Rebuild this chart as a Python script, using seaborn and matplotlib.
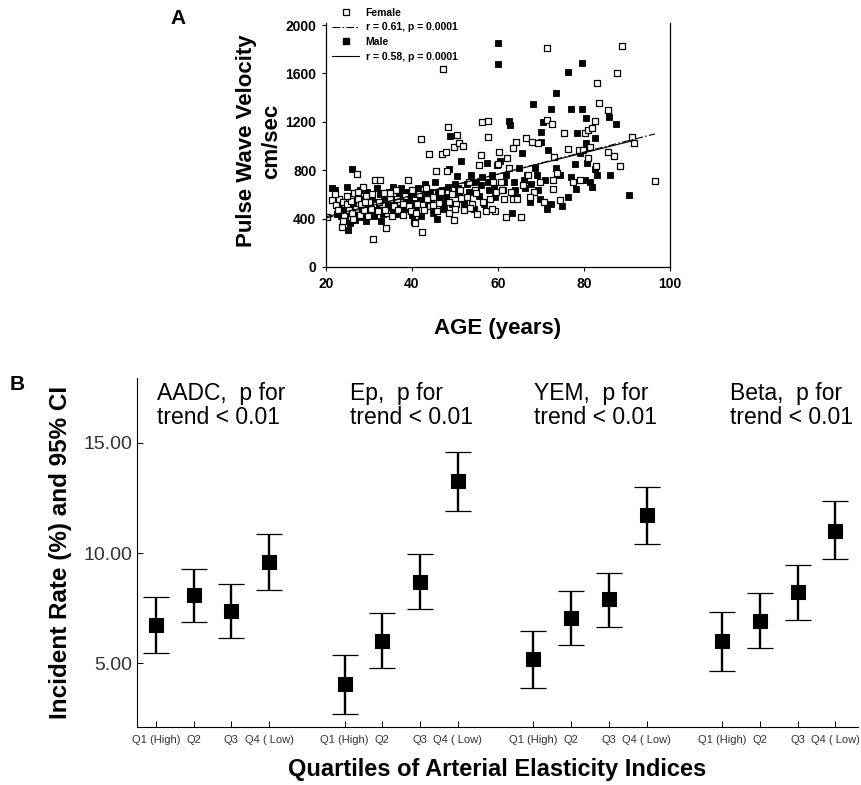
import matplotlib
matplotlib.use("Agg")
import matplotlib.pyplot as plt
import seaborn as sns
import pandas as pd
from matplotlib.lines import Line2D

# Panel A: pulse wave velocity vs age
female_age = [20.2, 21.5, 22.3, 22.8, 23.0, 23.7, 23.9, 24.3, 24.8, 25.3, 25.8, 26.2, 26.5, 26.9,
              27.1, 27.4, 27.8, 28.2, 28.6, 28.9, 29.3, 29.7, 30.1, 30.5,
              31.0, 31.5, 32.0, 32.6, 33.0, 33.4, 34.0, 34.3, 34.8, 35.3, 35.8, 36.2, 36.7, 37.2,
              37.8, 38.3, 39.0, 39.4, 39.8,
              40.5, 40.8, 41.2, 41.7, 42.1, 42.4, 42.8, 43.2, 43.9, 44.3, 44.8, 45.5, 45.9, 46.4,
              47.1, 47.3, 47.8, 48.1, 48.3, 48.7, 49.2, 49.7, 49.8,
              50.5, 51.0, 51.8, 50.3, 51.2, 52.0, 52.8, 53.3, 54.0, 54.6, 55.2, 55.6, 56.0, 56.4,
              57.2, 57.6, 57.6, 58.2, 58.8, 59.2, 59.6,
              60.3, 60.8, 61.4, 61.9, 62.5, 63.0, 63.6, 64.2, 65.3, 65.8, 66.5, 67.0, 67.9, 68.4,
              69.3, 69.8, 60.0, 62.0,
              70.8, 71.3, 71.5, 72.5, 72.9, 72.9, 73.0, 73.8, 74.4, 75.4, 76.2, 77.5, 78.8, 79.0, 79.8,
              80.2, 80.9, 81.8, 82.6, 83.1, 83.4, 85.5, 87.7, 88.9, 87.1, 85.6, 88.5, 91.2, 91.7,
              96.6, 81.0, 81.4, 82.8,
              22.0, 24.0, 25.0, 26.0, 27.5, 29.0, 30.8, 32.3, 33.8, 35.0, 36.5, 38.0, 40.0, 41.0,
              43.5, 45.0, 46.8, 48.5, 50.0, 51.5, 53.5, 55.0, 56.5, 58.5, 61.0, 63.5, 64.5, 67.5]
female_pwv = [414, 552, 510, 470, 560, 331, 540, 430, 520, 470, 545, 400, 610, 480,
              772, 560, 430, 520, 660, 470, 590, 420, 540, 480,
              229, 717, 460, 717, 520, 610, 323, 450, 560, 420, 500, 640, 470, 540,
              430, 590, 717, 500, 460,
              372, 364, 520, 600, 1062, 290, 470, 650, 938, 500, 580, 795, 460, 530,
              938, 1636, 952, 795, 1159, 450, 600, 993, 386,
              1090, 1021, 1001, 520, 640, 470, 580, 700, 520, 640, 440, 841, 924, 1197,
              463, 1209, 1076, 560, 700, 463, 620,
              950, 700, 560, 414, 820, 620, 560, 1030, 414, 680, 1070, 760, 1035, 620,
              1026, 700, 850, 900,
              538, 1214, 1810, 1186, 717, 648, 910, 778, 552, 1104, 979, 700, 966, 717, 966,
              1104, 1131, 1145, 1203, 1523, 1357, 1294, 1606, 1826, 916, 952, 836, 1076, 1021,
              709, 897, 993, 833,
              600, 380, 590, 450, 620, 540, 600, 540, 470, 610, 560, 520, 640, 450,
              560, 510, 620, 540, 480, 570, 490, 610, 540, 480, 640, 980, 560, 580]

male_age = [21.5, 22.0, 22.5, 23.0, 23.6, 24.1, 24.9, 25.2, 25.5, 25.9, 26.0, 26.4, 26.8, 27.2,
            27.6, 28.0, 28.4, 28.8, 29.2, 29.6, 30.0,
            30.6, 31.2, 31.8, 32.3, 32.9, 33.5, 34.1, 34.7, 35.2, 35.7, 36.3, 36.9, 37.5, 38.1,
            38.7, 39.3, 39.9,
            40.3, 40.9, 41.5, 42.0, 42.6, 43.1, 43.7, 44.2, 44.8, 45.3, 45.9, 46.4, 47.0, 47.5,
            48.0, 48.6, 48.9, 49.4, 49.9,
            50.4, 50.9, 51.5, 52.1, 52.7, 53.2, 53.8, 54.4, 55.0, 55.6, 56.2, 56.8, 57.4, 58.0,
            58.6, 59.3, 59.9, 59.9, 59.7,
            60.5, 61.2, 61.8, 62.5, 62.9, 63.3, 63.8, 64.4, 65.0, 65.7, 66.2, 66.8, 67.4, 68.1,
            68.6, 69.2, 69.8,
            70.1, 70.1, 70.4, 71.3, 71.7, 72.4, 72.4, 73.4, 73.6, 75.0, 76.2, 76.2, 77.1, 78.0,
            78.2, 78.4, 79.6, 79.6,
            80.4, 80.4, 80.2, 81.3, 81.8, 82.5, 82.5, 83.0, 85.9, 86.1, 87.5, 90.5,
            22.8, 23.3, 24.5, 25.6, 26.6, 27.9, 28.6, 29.4, 30.3, 31.5, 32.6, 33.2, 34.4, 35.5,
            36.6, 37.2, 38.4, 39.6, 40.6, 41.8, 43.4, 44.5, 46.0, 47.2, 48.3, 49.2, 50.7, 51.8,
            53.5, 54.8, 56.0, 57.7, 59.0, 61.5, 64.0, 66.0, 67.8, 69.0, 71.0, 74.5, 77.0, 79.0,
            80.8]
male_pwv = [650, 640, 440, 500, 420, 470, 662, 303, 360, 450, 808, 520, 390, 600,
            460, 640, 410, 500, 380, 620, 450,
            560, 420, 650, 500, 380, 580, 470, 620, 530, 660, 440, 600, 650, 480,
            620, 560, 430,
            600, 480, 650, 420, 560, 690, 500, 620, 450, 700, 400, 560, 640, 480,
            580, 806, 1082, 520, 690,
            750, 600, 880, 520, 690, 620, 760, 480, 700, 590, 740, 520, 860, 640,
            760, 580, 1854, 1675, 840,
            880, 640, 760, 1208, 1173, 450, 700, 580, 820, 944, 650, 760, 540, 1346,
            820, 640, 560,
            1117, 1035, 1200, 477, 966, 524, 1310, 1435, 820, 505, 1614, 579, 1305, 855,
            648, 1104, 1305, 1688,
            1228, 1021, 717, 703, 662, 1070, 814, 759, 1236, 759, 1178, 593,
            560, 460, 400, 520, 430, 480, 560, 450, 500, 470, 600, 440, 520, 460,
            560, 500, 540, 620, 530, 580, 600, 560, 610, 520, 660, 600, 650, 560,
            700, 620, 680, 700, 650, 700, 640, 720, 690, 760, 720, 760, 740, 940,
            860]

female_fit_age = [20, 96.5]
female_fit_pwv = [405, 1100]
male_fit_age = [20, 91.4]
male_fit_pwv = [415, 1044]

# Panel B: incident rate and 95% CI by quartile
quartile_labels = ["Q1 (High)", "Q2", "Q3", "Q4 ( Low)"]
index_names = ["AADC", "Ep", "YEM", "Beta"]
aadc_rate = [6.73, 8.09, 7.36, 9.60]
aadc_low = [5.44, 6.85, 6.15, 8.32]
aadc_high = [7.99, 9.27, 8.58, 10.86]
ep_rate = [4.03, 6.01, 8.70, 13.27]
ep_low = [2.71, 4.79, 7.44, 11.92]
ep_high = [5.36, 7.26, 9.94, 14.60]
yem_rate = [5.17, 7.06, 7.89, 11.73]
yem_low = [3.88, 5.82, 6.65, 10.41]
yem_high = [6.47, 8.29, 9.10, 13.02]
beta_rate = [6.00, 6.92, 8.21, 11.01]
beta_low = [4.65, 5.67, 6.95, 9.71]
beta_high = [7.30, 8.17, 9.45, 12.38]

sns.set_style("ticks")
plt.rcParams['font.family'] = ['Liberation Sans', 'DejaVu Sans']
plt.rcParams['text.color'] = 'black'
plt.rcParams['axes.labelcolor'] = 'black'
plt.rcParams['axes.edgecolor'] = 'black'
plt.rcParams['xtick.color'] = 'black'
plt.rcParams['ytick.color'] = 'black'

fig = plt.figure(figsize=(8.61, 7.85), dpi=100)

# ---------------- Panel A ----------------
axA = fig.add_axes([0.3786, 0.6599, 0.3995, 0.3113])
fem = pd.DataFrame({'age': female_age, 'pwv': female_pwv})
mal = pd.DataFrame({'age': male_age, 'pwv': male_pwv})
sns.scatterplot(data=mal, x='age', y='pwv', marker='s', s=24, color='black',
                edgecolor='black', linewidth=0.6, ax=axA, zorder=2)
sns.scatterplot(data=fem, x='age', y='pwv', marker='s', s=24, facecolor='white',
                edgecolor='black', linewidth=0.9, ax=axA, zorder=2)
sns.lineplot(x=female_fit_age, y=female_fit_pwv, color='black', lw=0.8,
             linestyle=(0, (7, 2, 1.5, 2)), ax=axA, zorder=3)
sns.lineplot(x=male_fit_age, y=male_fit_pwv, color='black', lw=0.8, ax=axA, zorder=3)

axA.set_xlim(20, 100)
axA.set_ylim(0, 2020)
axA.set_xticks([20, 40, 60, 80, 100])
axA.set_yticks([0, 400, 800, 1200, 1600, 2000])
axA.tick_params(labelsize=10, length=3, width=0.8, pad=4)
for lab in axA.get_xticklabels() + axA.get_yticklabels():
    lab.set_fontweight('bold')
axA.spines['top'].set_visible(False)
for sp in ['left', 'bottom', 'right']:
    axA.spines[sp].set_linewidth(0.9)
axA.set_xlabel('AGE (years)', fontsize=16, fontweight='bold', labelpad=20)
axA.set_ylabel('')
fig.text(259 / 861, 1 - 141 / 785, 'Pulse Wave Velocity\ncm/sec', rotation=90,
         ha='center', va='center', fontsize=16, fontweight='bold', linespacing=1.3,
         multialignment='center')
fig.text(178 / 861, 1 - 18 / 785, 'A', ha='center', va='center', fontsize=15, fontweight='bold')

handles = [
    Line2D([], [], marker='s', ls='none', mfc='white', mec='black', ms=4, mew=0.9),
    Line2D([], [], color='black', lw=0.8, linestyle=(0, (7, 2, 1.5, 2))),
    Line2D([], [], marker='s', ls='none', mfc='black', mec='black', ms=4),
    Line2D([], [], color='black', lw=0.8),
]
labels = ['Female', 'r = 0.61, p = 0.0001', 'Male', 'r = 0.58, p = 0.0001']
leg = axA.legend(handles, labels, loc='upper left', bbox_to_anchor=(0.012, 1.07),
                 frameon=False, prop={'size': 7.5, 'weight': 'bold'},
                 handlelength=2.6, handletextpad=0.6, labelspacing=0.45,
                 borderaxespad=0, borderpad=0.2)

# ---------------- Panel B ----------------
axB = fig.add_axes([0.1591, 0.0739, 0.8374, 0.4446])
rates = [aadc_rate, ep_rate, yem_rate, beta_rate]
lows = [aadc_low, ep_low, yem_low, beta_low]
highs = [aadc_high, ep_high, yem_high, beta_high]
rows = []
for g, name in enumerate(index_names):
    for q in range(4):
        rows.append({'index': name, 'quartile': quartile_labels[q], 'pos': g * 5 + q,
                     'rate': rates[g][q], 'low': lows[g][q], 'high': highs[g][q]})
dfB = pd.DataFrame(rows)

axB.errorbar(dfB['pos'], dfB['rate'],
             yerr=[dfB['rate'] - dfB['low'], dfB['high'] - dfB['rate']],
             fmt='none', ecolor='black', elinewidth=1.7, capsize=9.7, capthick=0.9, zorder=2)
sns.scatterplot(data=dfB, x='pos', y='rate', marker='s', s=95, color='black',
                edgecolor='black', ax=axB, zorder=3)

axB.set_xlim(-0.5, 18.6)
axB.set_ylim(2.1, 17.95)
axB.set_yticks([5, 10, 15])
axB.set_yticklabels(['5.00', '10.00', '15.00'])
axB.set_xticks(dfB['pos'])
axB.set_xticklabels(dfB['quartile'])
axB.tick_params(axis='y', labelsize=14, labelcolor='#333333', direction='in', length=4, width=0.7)
axB.tick_params(axis='x', labelsize=8, labelcolor='#333333', direction='in', length=4, width=0.7, pad=6)
sns.despine(ax=axB)
for sp in ['left', 'bottom']:
    axB.spines[sp].set_linewidth(0.8)
axB.set_xlabel('Quartiles of Arterial Elasticity Indices', fontsize=17,
               fontweight='bold', labelpad=9)
axB.set_ylabel('Incident Rate (%) and 95% CI', fontsize=17.5, fontweight='bold', labelpad=8)

text_offset = [0.03, 0.13, 0.03, 0.21]
for g, name in enumerate(index_names):
    axB.text(g * 5 + text_offset[g], 17.75, f'{name},  p for\ntrend < 0.01',
             ha='left', va='top', fontsize=16.5, linespacing=1.05)

fig.text(17 / 861, 1 - 384 / 785, 'B', ha='center', va='center', fontsize=15, fontweight='bold')

fig.savefig('out.png', dpi=100)
